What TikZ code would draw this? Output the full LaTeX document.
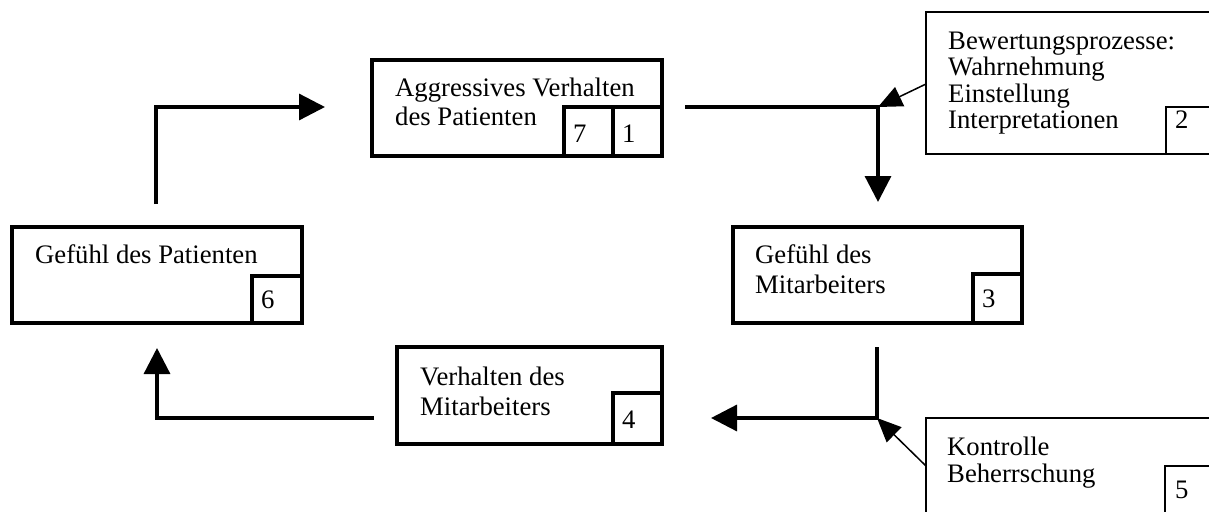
\documentclass[tikz,border=0pt]{standalone}
\usepackage{fontspec}
\setmainfont{Liberation Serif}
\usetikzlibrary{arrows.meta}
\begin{document}
\begin{tikzpicture}[x=1pt,y=-1pt,
  thickbox/.style={draw,line width=3.2pt,inner sep=0pt},
  thinbox/.style={draw,line width=1.6pt,inner sep=0pt},
  txt/.style={anchor=base west,inner sep=0pt,font=\fontsize{26.7pt}{27pt}\selectfont},
  num/.style={anchor=base west,inner sep=0pt,font=\fontsize{26.7pt}{27pt}\selectfont},
  flow/.style={line width=3.3pt,-{Triangle[length=26pt,width=26pt]}},
  infl/.style={line width=1.5pt,-{Triangle[length=24pt,width=21pt]}}
]
\useasboundingbox (0,0) rectangle (1209,511);
\clip (0,0) rectangle (1209,511);
% boxes
\node[thickbox,minimum width=290pt,minimum height=96pt] (b1) at (517,108) {};
\node[thickbox,minimum width=49pt,minimum height=49pt] (n7) at (588.5,131.5) {};
\node[thickbox,minimum width=49pt,minimum height=49pt] (n1) at (637.5,131.5) {};
\node[thinbox,minimum width=320pt,minimum height=142pt] (b2) at (1086,83) {};
\node[thinbox,minimum width=80pt,minimum height=47pt] (n2) at (1206,130.5) {};
\node[thickbox,minimum width=289pt,minimum height=96pt] (b3) at (877.5,275) {};
\node[thickbox,minimum width=49pt,minimum height=49pt] (n3) at (997.5,298.5) {};
\node[thickbox,minimum width=265pt,minimum height=97pt] (b4) at (529.5,395.5) {};
\node[thickbox,minimum width=49pt,minimum height=51pt] (n4) at (637.5,418.5) {};
\node[thinbox,minimum width=320pt,minimum height=130pt] (b5) at (1086,483) {};
\node[thinbox,minimum width=80pt,minimum height=80pt] (n5) at (1205,506) {};
\node[thickbox,minimum width=290pt,minimum height=96pt] (b6) at (157,275) {};
\node[thickbox,minimum width=50pt,minimum height=47pt] (n6) at (277,299.5) {};
% texts
\node[txt] (t1) at (395,96) {\vtop{\baselineskip=29pt\hbox{Aggressives Verhalten}\hbox{des Patienten}}};
\node[txt] (t2) at (948,49) {\vtop{\baselineskip=26.5pt\hbox{Bewertungsprozesse:}\hbox{Wahrnehmung}\hbox{Einstellung}\hbox{Interpretationen}}};
\node[txt] (t3) at (755,263) {\vtop{\baselineskip=30pt\hbox{Gefühl des}\hbox{Mitarbeiters}}};
\node[txt] (t4) at (420,385) {\vtop{\baselineskip=30pt\hbox{Verhalten des}\hbox{Mitarbeiters}}};
\node[txt] (t5) at (947,455) {\vtop{\baselineskip=27pt\hbox{Kontrolle}\hbox{Beherrschung}}};
\node[txt] (t6) at (35,263) {Gefühl des Patienten};
\node[num] (l7) at (573,142) {7};
\node[num] (l1) at (622,142) {1};
\node[num] (l2) at (1175,128) {2};
\node[num] (l3) at (982,307) {3};
\node[num] (l4) at (622,428) {4};
\node[num] (l5) at (1175,498) {5};
\node[num] (l6) at (261,308) {6};
% connector coordinates
\coordinate (c6top) at (156,204);
\coordinate (c1in) at (325,107);
\coordinate (c1out) at (685,107);
\coordinate (j1) at (878,107);
\coordinate (c3in) at (878,202);
\coordinate (c2out) at (926,84);
\coordinate (c3out) at (877,347);
\coordinate (j2) at (877,418);
\coordinate (c4in) at (711,418);
\coordinate (c5out) at (926,466);
\coordinate (c4out) at (374,418);
\coordinate (c6in) at (157,348);
% connectors
\draw[flow] (c6top) |- (c1in);
\draw[flow] (c1out) -- (j1) -- (c3in);
\draw[infl] (c2out) -- (j1);
\draw[flow] (c3out) -- (j2) -- (c4in);
\draw[infl] (c5out) -- (j2);
\draw[flow] (c4out) -| (c6in);
\end{tikzpicture}
\end{document}
